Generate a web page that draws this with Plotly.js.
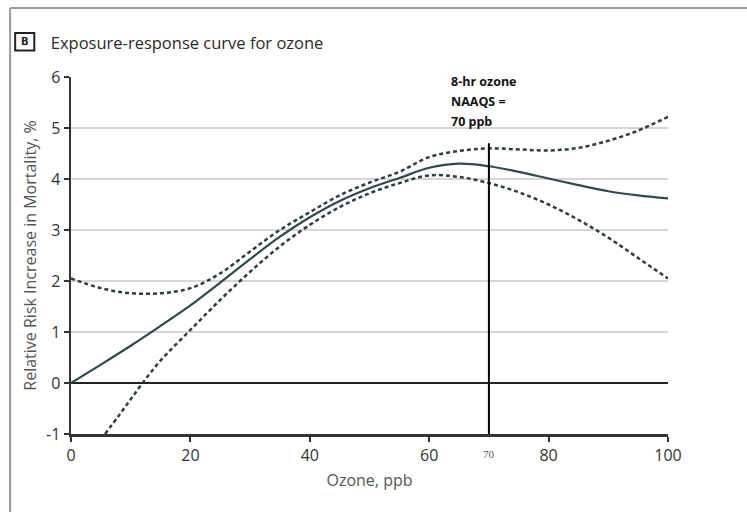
<!DOCTYPE html>
<html>
<head>
<meta charset="utf-8">
<script src="https://cdn.plot.ly/plotly-3.0.1.min.js"></script>
<style>html,body{margin:0;padding:0;background:#fff;}#chart{width:747px;height:512px;}</style>
</head>
<body>
<div id="chart"></div>
<script>
// Central estimate
var ozone = [0, 5, 10, 15, 20, 25, 30, 35, 40, 45, 50, 55, 60, 65, 70, 75, 80, 85, 90, 95, 100];
var riskCentral = [0, 0.36, 0.73, 1.12, 1.52, 1.97, 2.43, 2.87, 3.25, 3.57, 3.82, 4.02, 4.22, 4.3, 4.25, 4.14, 4.01, 3.88, 3.76, 3.68, 3.62];
// Upper confidence bound
var ozoneUpper = [0, 5, 10, 15, 20, 25, 30, 35, 40, 45, 50, 55, 60, 65, 70, 75, 80, 85, 90, 95, 100];
var riskUpper = [2.05, 1.86, 1.76, 1.76, 1.86, 2.15, 2.58, 3.0, 3.35, 3.68, 3.93, 4.14, 4.43, 4.55, 4.6, 4.58, 4.56, 4.61, 4.75, 4.95, 5.22];
// Lower confidence bound
var ozoneLower = [5.7, 8, 10, 12, 15, 20, 25, 30, 35, 40, 45, 50, 55, 60, 65, 70, 75, 80, 85, 90, 95, 100];
var riskLower = [-1, -0.64, -0.32, 0, 0.44, 1.04, 1.63, 2.18, 2.68, 3.1, 3.45, 3.72, 3.92, 4.07, 4.04, 3.92, 3.74, 3.5, 3.2, 2.85, 2.45, 2.05];
// Axis ticks
var yTicks = [-1, 0, 1, 2, 3, 4, 5, 6];
var yTickText = ['-1', '0', '1', '2', '3', '4', '5', '6'];
var xTicks = [0, 20, 40, 60, 80, 100];
var naaqs = 70;
var naaqsTop = 4.7;
var noteLines = ["8-hr ozone", "NAAQS =", "70 ppb"];

var dashColor = '#2f3d42';
var traces = [
  {x: ozoneUpper, y: riskUpper, mode: 'lines', line: {color: dashColor, width: 2.5, dash: '4px,3px', shape: 'spline', smoothing: 1}, hoverinfo: 'skip'},
  {x: ozoneLower, y: riskLower, mode: 'lines', line: {color: dashColor, width: 2.5, dash: '4px,3px', shape: 'spline', smoothing: 1}, hoverinfo: 'skip'},
  {x: ozone, y: riskCentral, mode: 'lines', line: {color: '#2c4a50', width: 2.2, shape: 'spline', smoothing: 1}, hoverinfo: 'skip'}
];

var tickFont = {family: 'Open Sans, sans-serif', size: 16, color: '#333'};
var annotations = noteLines.map(function(t, i) {
  return {x: 63.3, xref: 'x', xanchor: 'left', y: 1.016 - i * 0.056, yref: 'paper', yanchor: 'top',
          text: '<b>' + t + '</b>', showarrow: false, font: {family: 'Open Sans, sans-serif', size: 12.5, color: '#111'}};
});
annotations.push({x: naaqs, xref: 'x', xanchor: 'center', y: -0.035, yref: 'paper', yanchor: 'top',
  text: String(naaqs), showarrow: false, font: {family: 'Liberation Serif, serif', size: 11, color: '#555'}});
annotations.push({x: -0.0775, xref: 'paper', xanchor: 'center', y: 1.0985, yref: 'paper', yanchor: 'middle',
  text: '<b>B</b>', showarrow: false, font: {family: 'DejaVu Sans, sans-serif', size: 10, color: '#222'}});

var layout = {
  width: 747, height: 512,
  margin: {l: 71, r: 79, t: 77, b: 78},
  paper_bgcolor: '#fff', plot_bgcolor: '#fff',
  showlegend: false,
  title: {text: 'Exposure-response curve for ozone', x: 0.068, xanchor: 'left', y: 0.916, yanchor: 'middle',
          font: {family: 'Open Sans, sans-serif', size: 16.5, color: '#2a2a2a'}},
  xaxis: {range: [0, 100], tickvals: xTicks, ticks: 'outside', ticklen: 5, tickwidth: 2, tickcolor: '#333',
          showline: true, linecolor: '#333', linewidth: 2.5, showgrid: false, zeroline: false,
          tickfont: tickFont, fixedrange: true,
          title: {text: 'Ozone, ppb', standoff: 10, font: {family: 'Open Sans, sans-serif', size: 16, color: '#555'}}},
  yaxis: {range: [-1, 6], tickvals: yTicks, ticktext: yTickText, ticks: 'outside', ticklen: 5, tickwidth: 2, tickcolor: '#333',
          showline: true, linecolor: '#333', linewidth: 2.5, showgrid: true, gridcolor: '#d6d6d6', gridwidth: 1.5,
          zeroline: true, zerolinecolor: '#222', zerolinewidth: 2,
          tickfont: tickFont, fixedrange: true,
          title: {text: 'Relative Risk Increase in Mortality, %', standoff: 6, font: {family: 'Open Sans, sans-serif', size: 16, color: '#555'}}},
  shapes: [
    {type: 'line', xref: 'x', yref: 'y', x0: naaqs, x1: naaqs, y0: -1, y1: naaqsTop, line: {color: '#000', width: 2}},
    {type: 'line', xref: 'paper', yref: 'paper', x0: -0.102, x1: 1.14, y0: 1.193, y1: 1.193, line: {color: '#9a9a9a', width: 2}},
    {type: 'line', xref: 'paper', yref: 'paper', x0: -0.102, x1: -0.102, y0: 1.193, y1: -0.23, line: {color: '#9a9a9a', width: 2}},
    {type: 'rect', xref: 'paper', yref: 'paper', x0: -0.0935, x1: -0.0615, y0: 1.074, y1: 1.123, line: {color: '#222', width: 2}}
  ],
  annotations: annotations
};

Plotly.newPlot('chart', traces, layout, {displayModeBar: false, staticPlot: true});
</script>
</body>
</html>
